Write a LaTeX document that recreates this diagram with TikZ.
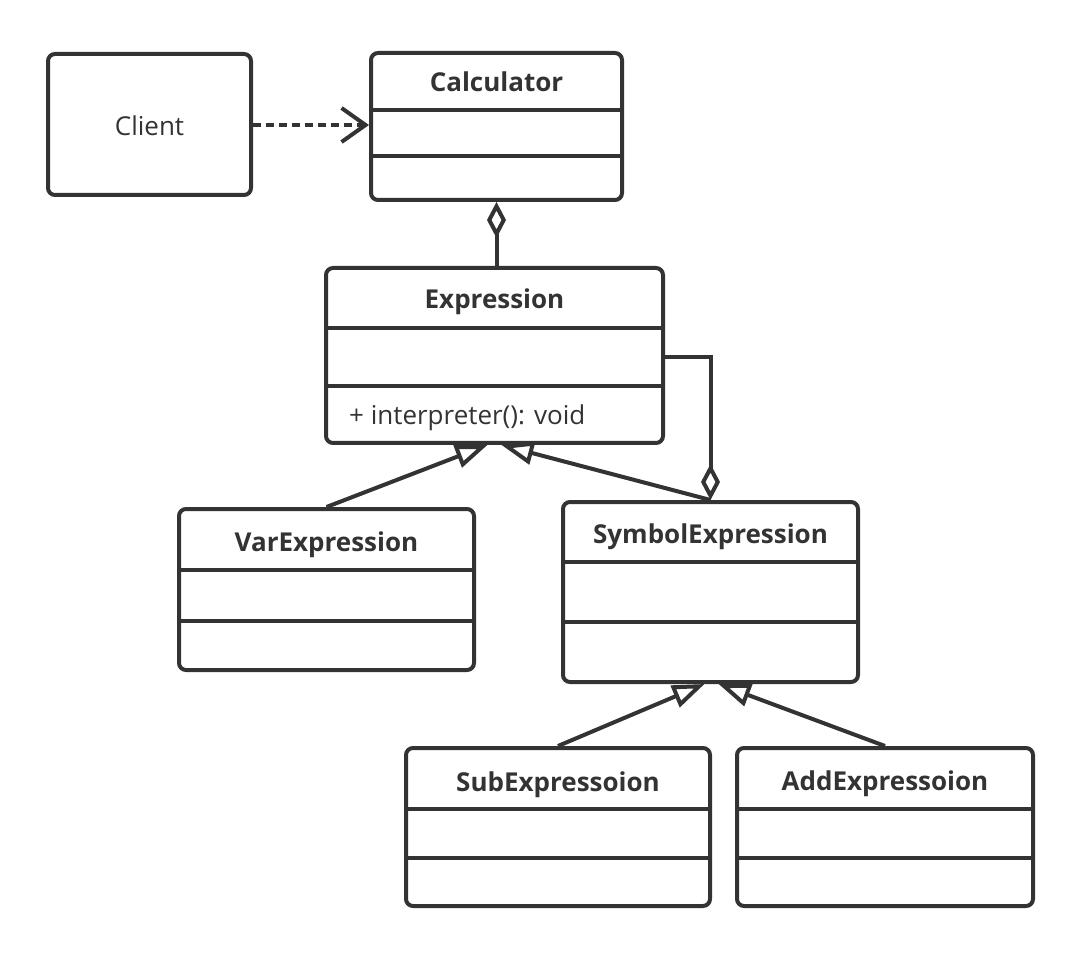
\documentclass[tikz,border=0pt]{standalone}
\usepackage{fontspec}
\setmainfont{Open Sans}
\usepackage{tikz}
\usetikzlibrary{arrows.meta,positioning,calc}
\definecolor{umlgray}{HTML}{333333}

\begin{document}
\begin{tikzpicture}[
    x=1pt, y=-1pt,
    cls/.style={rectangle, draw=umlgray, line width=4pt, rounded corners=7pt, inner sep=0pt, text=umlgray, font=\fontsize{26}{31}\selectfont},
    title/.style={anchor=base, text=umlgray, inner sep=0pt, font=\fontsize{26}{31}\selectfont\bfseries},
    member/.style={anchor=base west, text=umlgray, inner sep=0pt, font=\fontsize{26}{31}\selectfont},
    split/.style={draw=umlgray, line width=4pt},
    dep/.style={draw=umlgray, line width=4pt, dash pattern=on 8pt off 5pt, -{Straight Barb[length=24pt,width=34pt]}},
    agg/.style={draw=umlgray, line width=4pt, -{Diamond[open,length=36pt,width=19pt]}},
    inherit/.style={draw=umlgray, line width=4pt, -{Triangle[open,length=32pt,width=23pt]}}
]
    \useasboundingbox (0,0) rectangle (1082,957);

    % Client and Calculator
    \node [cls, minimum width=203pt, minimum height=141pt] (client) at (149.5,124.5) {};
    \node [member, anchor=base] (clientname) at (149.5,136) {Client};
    \node [cls, minimum width=251pt, minimum height=147pt] (calc) at (496.5,126.5) {};
    \node [title] (calcname) at (496.5,92) {Calculator};
    \draw [split] (calc.west |- 0,110) -- (calc.east |- 0,110);
    \draw [split] (calc.west |- 0,156) -- (calc.east |- 0,156);

    % Expression
    \node [cls, minimum width=337pt, minimum height=175pt] (expr) at (494.5,355.5) {};
    \node [title] (exprname) at (494.5,309) {Expression};
    \draw [split] (expr.west |- 0,328) -- (expr.east |- 0,328);
    \draw [split] (expr.west |- 0,386) -- (expr.east |- 0,386);
    \node [member] (exprop) at (349,425) {+ interpreter(): void};

    % Terminal / non-terminal expressions
    \node [cls, minimum width=295pt, minimum height=161pt] (var) at (326.5,589.5) {};
    \node [title] (varname) at (326.5,551) {VarExpression};
    \draw [split] (var.west |- 0,570) -- (var.east |- 0,570);
    \draw [split] (var.west |- 0,621) -- (var.east |- 0,621);

    \node [cls, minimum width=295pt, minimum height=180pt] (sym) at (710.5,592) {};
    \node [title] (symname) at (710.5,543) {SymbolExpression};
    \draw [split] (sym.west |- 0,562) -- (sym.east |- 0,562);
    \draw [split] (sym.west |- 0,622) -- (sym.east |- 0,622);

    \node [cls, minimum width=304pt, minimum height=158pt] (sub) at (558,827) {};
    \node [title] (subname) at (558,791) {SubExpressoion};
    \draw [split] (sub.west |- 0,809) -- (sub.east |- 0,809);
    \draw [split] (sub.west |- 0,858) -- (sub.east |- 0,858);

    \node [cls, minimum width=296pt, minimum height=158pt] (add) at (885,827) {};
    \node [title] (addname) at (885,790) {AddExpressoion};
    \draw [split] (add.west |- 0,809) -- (add.east |- 0,809);
    \draw [split] (add.west |- 0,858) -- (add.east |- 0,858);

    % Relations
    \path [dep] (client.east |- 0,125) -- (calc.west |- 0,125);
    \path [agg] (calc.south |- expr.north) -- (calc.south);
    \path [agg] (expr.east |- 0,357) -| (sym.north);
    \path [inherit] (var.north) -- ($(expr.south)+(-7,0)$);
    \path [inherit] (sym.north) -- ($(expr.south)+(7,0)$);
    \path [inherit] (sub.north) -- ($(sym.south)+(-6,0)$);
    \path [inherit] (add.north) -- ($(sym.south)+(8,0)$);
\end{tikzpicture}
\end{document}
